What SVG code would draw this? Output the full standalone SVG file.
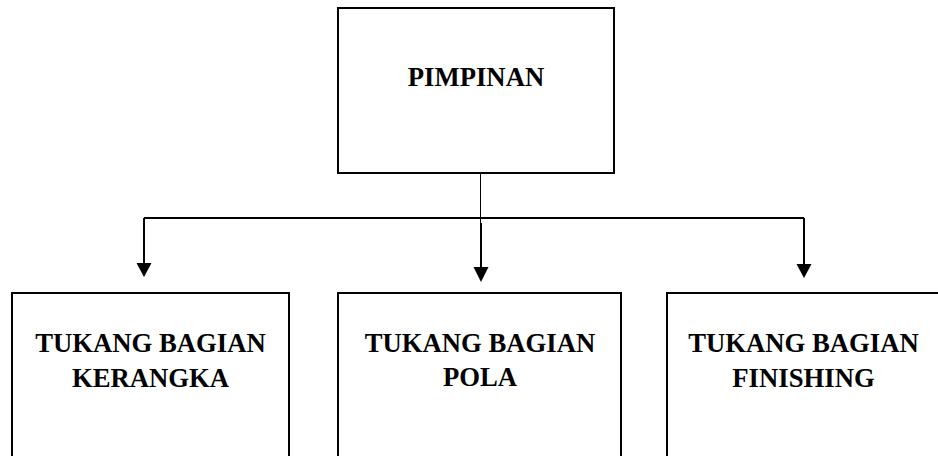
<svg xmlns="http://www.w3.org/2000/svg" width="938" height="456" viewBox="0 0 938 456">
<style>
.box{fill:#fff;stroke:#000;stroke-width:2}
.t{font-family:"Liberation Serif","Times New Roman",serif;font-weight:bold;font-size:26.7px;fill:#000;text-anchor:middle}
.ln{fill:none;stroke:#000;stroke-width:2}
.thin{fill:none;stroke:#000;stroke-width:1}
</style>
<rect width="938" height="456" fill="#fff"/>
<g id="connectors">
<path class="thin" d="M480.5,173 V224"/>
<path class="ln" d="M144,218 H804"/>
<path class="ln" d="M144,218 V264"/>
<polygon points="136.5,263 151.5,263 144,277" fill="#000"/>
<path class="ln" d="M481,223 V268"/>
<polygon points="473.5,267 488.5,267 481,282" fill="#000"/>
<path class="ln" d="M804,218 V264"/>
<polygon points="796.5,264 811.5,264 804,278" fill="#000"/>
</g>
<g id="pimpinan">
<rect class="box" x="338" y="8" width="276" height="165"/>
<text class="t" x="476" y="86">PIMPINAN</text>
</g>
<g id="kerangka">
<rect class="box" x="12" y="293" width="277" height="180"/>
<text class="t" x="150.5" y="352">TUKANG BAGIAN</text>
<text class="t" x="150.5" y="387">KERANGKA</text>
</g>
<g id="pola">
<rect class="box" x="338" y="293" width="283" height="180"/>
<text class="t" x="480" y="352">TUKANG BAGIAN</text>
<text class="t" x="480" y="386">POLA</text>
</g>
<g id="finishing">
<rect class="box" x="667" y="293" width="290" height="180"/>
<text class="t" x="803.5" y="352">TUKANG BAGIAN</text>
<text class="t" x="803.5" y="387">FINISHING</text>
</g>
</svg>
